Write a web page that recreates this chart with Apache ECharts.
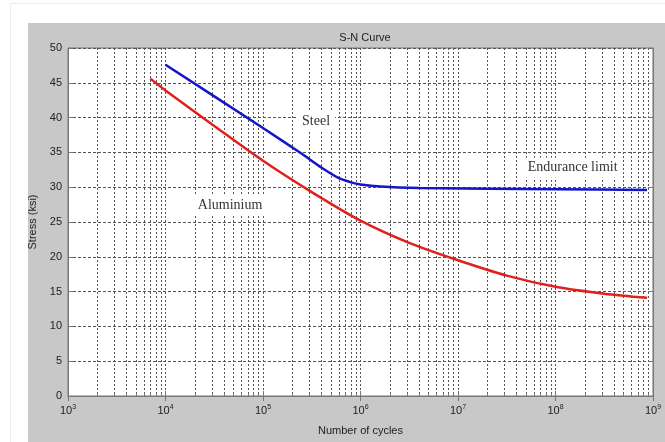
<!DOCTYPE html>
<html>
<head>
<meta charset="utf-8">
<script src="https://cdn.jsdelivr.net/npm/echarts@6/dist/echarts.min.js"></script>
<style>
    html, body { margin: 0; padding: 0; background: #fff; }
    #frame { position: absolute; left: 10px; top: 3px; width: 700px; height: 500px; border: 1px solid #ececec; }
    #panel { position: absolute; left: 28px; top: 23px; width: 637px; height: 419px; background: #c8c8c8; }
    #chart { position: absolute; left: 0; top: 0; width: 665px; height: 442px; }
</style>
</head>
<body>
<div id="frame"></div>
<div id="panel"></div>
<div id="chart"></div>
<script>
    // cycles / stress (ksi)
    var steelCycles = [1e4, 1e5, 2.5e5, 4e5, 6e5, 8e5, 1e6, 1.6e6, 4e6, 1e8, 8.7e8];
    var steelStress = [47.6, 38.5, 34.8, 32.8, 31.3, 30.7, 30.4, 30.1, 29.9, 29.7, 29.6];

    var aluCycles = [7e3, 1e4, 3.16e4, 1e5, 3.16e5, 1e6, 3.16e6, 1e7, 3.16e7, 1e8, 3.16e8, 8.7e8];
    var aluStress = [45.6, 43.9, 38.8, 33.8, 29.3, 25.2, 22.0, 19.5, 17.3, 15.7, 14.7, 14.1];

    var yTicks = [0, 5, 10, 15, 20, 25, 30, 35, 40, 45, 50];

    // text annotations [cycles, stress, text]
    var notes = [
        [3.5e5, 39.4, 'Steel'],
        [4.6e4, 27.4, 'Aluminium'],
        [1.5e8, 32.8, 'Endurance limit']
    ];

    function zip(xs, ys) {
        var out = [];
        for (var i = 0; i < xs.length; i++) out.push([xs[i], ys[i]]);
        return out;
    }

    var gridLine = {color: '#555', width: 1, type: [2, 2]};
    var sans = 'Liberation Sans';

    var myChart = echarts.init(document.getElementById('chart'));

    var option = {
        animation: false,
        backgroundColor: 'transparent',
        title: {
            text: 'S-N Curve',
            left: 360,
            top: 27,
            textAlign: 'center',
            textStyle: {fontFamily: sans, fontSize: 11, fontWeight: 'normal', color: '#222'}
        },
        grid: {
            left: 68, top: 48, right: 12, bottom: 46,
            show: true,
            backgroundColor: '#fff',
            borderColor: '#777',
            borderWidth: 1
        },
        xAxis: [{
            type: 'log',
            logBase: 10,
            min: 1e3,
            max: 1e9,
            name: 'Number of cycles',
            nameLocation: 'middle',
            nameGap: 29,
            nameTextStyle: {fontFamily: sans, fontSize: 11, color: '#222'},
            axisLine: {lineStyle: {color: '#777'}},
            axisTick: {inside: true, length: 5, lineStyle: {color: '#777'}},
            minorTick: {show: true, splitNumber: 9, length: 3, lineStyle: {color: '#777'}},
            axisLabel: {
                margin: 8,
                formatter: function (v) {
                    return '{b|10}{e|' + Math.round(Math.log(v) / Math.LN10) + '}';
                },
                rich: {
                    b: {fontFamily: sans, fontSize: 11, color: '#222'},
                    e: {fontFamily: sans, fontSize: 7, color: '#222', padding: [0, 0, 7, 0]}
                }
            },
            splitLine: {show: true, lineStyle: gridLine},
            minorSplitLine: {show: true, lineStyle: gridLine}
        }, {
            type: 'log',
            logBase: 10,
            min: 1e3,
            max: 1e9,
            position: 'top',
            axisLine: {lineStyle: {color: '#777'}},
            axisTick: {inside: true, length: 5, lineStyle: {color: '#777'}},
            axisLabel: {show: false},
            splitLine: {show: false}
        }],
        yAxis: [{
            type: 'value',
            min: 0,
            max: 50,
            interval: 5,
            name: 'Stress (ksi)',
            nameLocation: 'middle',
            nameGap: 22,
            nameTextStyle: {fontFamily: sans, fontSize: 11, color: '#222'},
            axisLine: {show: true, lineStyle: {color: '#777'}},
            axisTick: {show: true, inside: true, length: 5, lineStyle: {color: '#777'}},
            axisLabel: {
                margin: 6,
                fontFamily: sans, fontSize: 11, color: '#222',
                formatter: function (v) { return yTicks.indexOf(v) >= 0 ? String(v) : ''; }
            },
            splitLine: {show: true, lineStyle: {color: '#555', width: 1, type: [3, 2]}}
        }, {
            type: 'value',
            min: 0,
            max: 50,
            interval: 5,
            position: 'right',
            axisLine: {show: true, lineStyle: {color: '#777'}},
            axisTick: {show: true, inside: true, length: 5, lineStyle: {color: '#777'}},
            axisLabel: {show: false},
            splitLine: {show: false}
        }],
        series: [
            {
                name: 'Steel',
                type: 'line',
                smooth: 0.25,
                symbol: 'none',
                z: 3,
                data: zip(steelCycles, steelStress),
                lineStyle: {color: '#1414c8', width: 2.5},
                markPoint: {
                    symbol: 'circle',
                    symbolSize: 1,
                    itemStyle: {color: 'transparent'},
                    label: {
                        show: true,
                        position: 'inside',
                        fontFamily: 'Liberation Serif',
                        fontSize: 14,
                        color: '#333',
                        backgroundColor: '#fff',
                        padding: [3, 5],
                        formatter: function (p) { return p.name; }
                    },
                    data: notes.map(function (n) {
                        return {name: n[2], coord: [n[0], n[1]]};
                    })
                }
            },
            {
                name: 'Aluminium',
                type: 'line',
                smooth: 0.3,
                symbol: 'none',
                data: zip(aluCycles, aluStress),
                lineStyle: {color: '#e0201c', width: 2.5}
            }
        ]
    };

    myChart.setOption(option);
</script>
</body>
</html>
